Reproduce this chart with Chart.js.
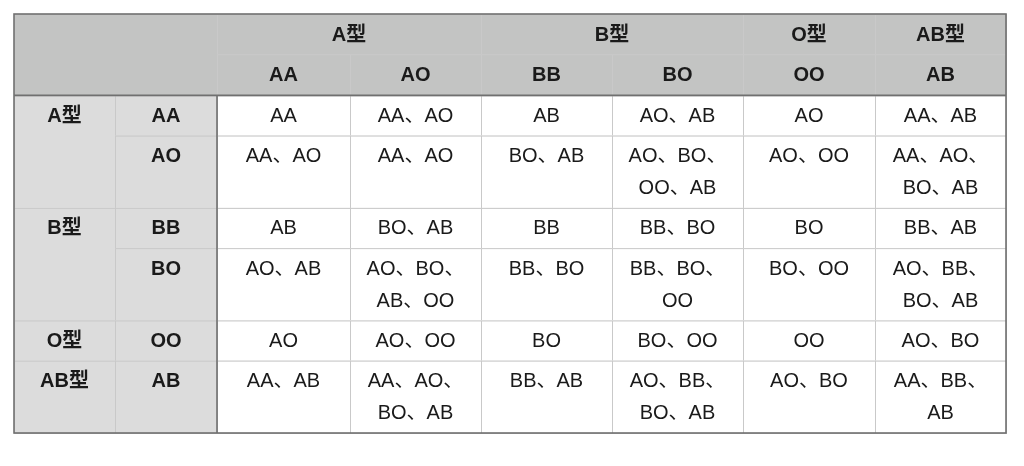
<!DOCTYPE html>
<html><head><meta charset="utf-8">
<script src="https://cdn.jsdelivr.net/npm/chart.js@4/dist/chart.umd.min.js"></script>
<style>html,body{margin:0;padding:0;background:#fff}#w{width:1024px;height:466px}</style>
</head><body><div id="w"><canvas id="c"></canvas></div>
<script>
// ---- data ----
const groups = ["A型", "B型", "O型", "AB型"];
const genotypes = [["AA", "AO"], ["BB", "BO"], ["OO"], ["AB"]];
const results = [
  ["AA", "AA、AO", "AB", "AO、AB", "AO", "AA、AB"],
  ["AA、AO", "AA、AO", "BO、AB", "AO、BO、\nOO、AB", "AO、OO", "AA、AO、\nBO、AB"],
  ["AB", "BO、AB", "BB", "BB、BO", "BO", "BB、AB"],
  ["AO、AB", "AO、BO、\nAB、OO", "BB、BO", "BB、BO、\nOO", "BO、OO", "AO、BB、\nBO、AB"],
  ["AO", "AO、OO", "BO", "BO、OO", "OO", "AO、BO"],
  ["AA、AB", "AA、AO、\nBO、AB", "BB、AB", "AO、BB、\nBO、AB", "AO、BO", "AA、BB、\nAB"]
];
// ---- layout (units) ----
const colW = [101, 102, 133, 131, 131, 131, 132, 131];
const headH = [40, 41];
const lineH = 32, baseH = 40;

const genos = genotypes.flat();
const rowH = results.map(r => baseH + lineH * (Math.max(...r.map(s => s.split("\n").length)) - 1));
const colX = [0]; colW.forEach(w => colX.push(colX[colX.length - 1] + w));
const rowY = [0]; headH.concat(rowH).forEach(h => rowY.push(rowY[rowY.length - 1] + h));
const W = colX[colX.length - 1], H = rowY[rowY.length - 1];

const FONT = '"Liberation Sans", "Noto Sans CJK JP", sans-serif';
const tablePlugin = {
  id: 'table',
  afterDraw(chart) {
    const ctx = chart.ctx, xs = chart.scales.x, ys = chart.scales.y;
    const px = v => xs.getPixelForValue(v), py = v => ys.getPixelForValue(v);
    function cell(c0, c1, r0, r1, fill, text, bold) {
      const x0 = px(colX[c0]), x1 = px(colX[c1]), y0 = py(rowY[r0]), y1 = py(rowY[r1]);
      ctx.fillStyle = fill; ctx.fillRect(x0, y0, x1 - x0, y1 - y0);
      ctx.strokeStyle = '#c9c9c9'; ctx.lineWidth = 1;
      ctx.strokeRect(x0 + .5, y0 + .5, x1 - x0, y1 - y0);
      if (text) {
        ctx.fillStyle = '#1a1a1a';
        ctx.font = (bold ? 'bold ' : '') + '20px ' + FONT;
        ctx.textAlign = 'center'; ctx.textBaseline = 'middle';
        text.split("\n").forEach((t, i) => ctx.fillText(t, (x0 + x1) / 2, y0 + 21 + i * (py(lineH) - py(0))));
      }
    }
    const HEAD = '#c3c4c3', SIDE = '#dcdcdc';
    cell(0, 2, 0, 2, HEAD, '', true);
    let c = 2, r = 2;
    groups.forEach((g, gi) => {
      const n = genotypes[gi].length;
      cell(c, c + n, 0, 1, HEAD, g, true);
      cell(0, 1, r, r + n, SIDE, g, true);
      c += n; r += n;
    });
    genos.forEach((g, i) => {
      cell(2 + i, 3 + i, 1, 2, HEAD, g, true);
      cell(1, 2, 2 + i, 3 + i, SIDE, g, true);
    });
    results.forEach((row, i) => row.forEach((t, j) => cell(2 + j, 3 + j, 2 + i, 3 + i, '#ffffff', t, false)));
    // strong lines
    ctx.strokeStyle = '#707070'; ctx.lineWidth = 1.6;
    ctx.strokeRect(px(0), py(0), px(W) - px(0), py(H) - py(0));
    ctx.beginPath();
    ctx.moveTo(px(0), py(rowY[2])); ctx.lineTo(px(W), py(rowY[2]));
    ctx.moveTo(px(colX[2]), py(rowY[2])); ctx.lineTo(px(colX[2]), py(H));
    ctx.stroke();
  }
};
new Chart(document.getElementById('c'), {
  type: 'scatter',
  data: { datasets: [{ data: [] }] },
  options: {
    responsive: true, maintainAspectRatio: false, animation: false,
    layout: { padding: { left: 14, right: 18, top: 14, bottom: 33 } },
    plugins: { legend: { display: false }, tooltip: { enabled: false } },
    scales: {
      x: { type: 'linear', min: 0, max: W, display: false },
      y: { type: 'linear', min: 0, max: H, reverse: true, display: false }
    }
  },
  plugins: [tablePlugin]
});
</script></body></html>
